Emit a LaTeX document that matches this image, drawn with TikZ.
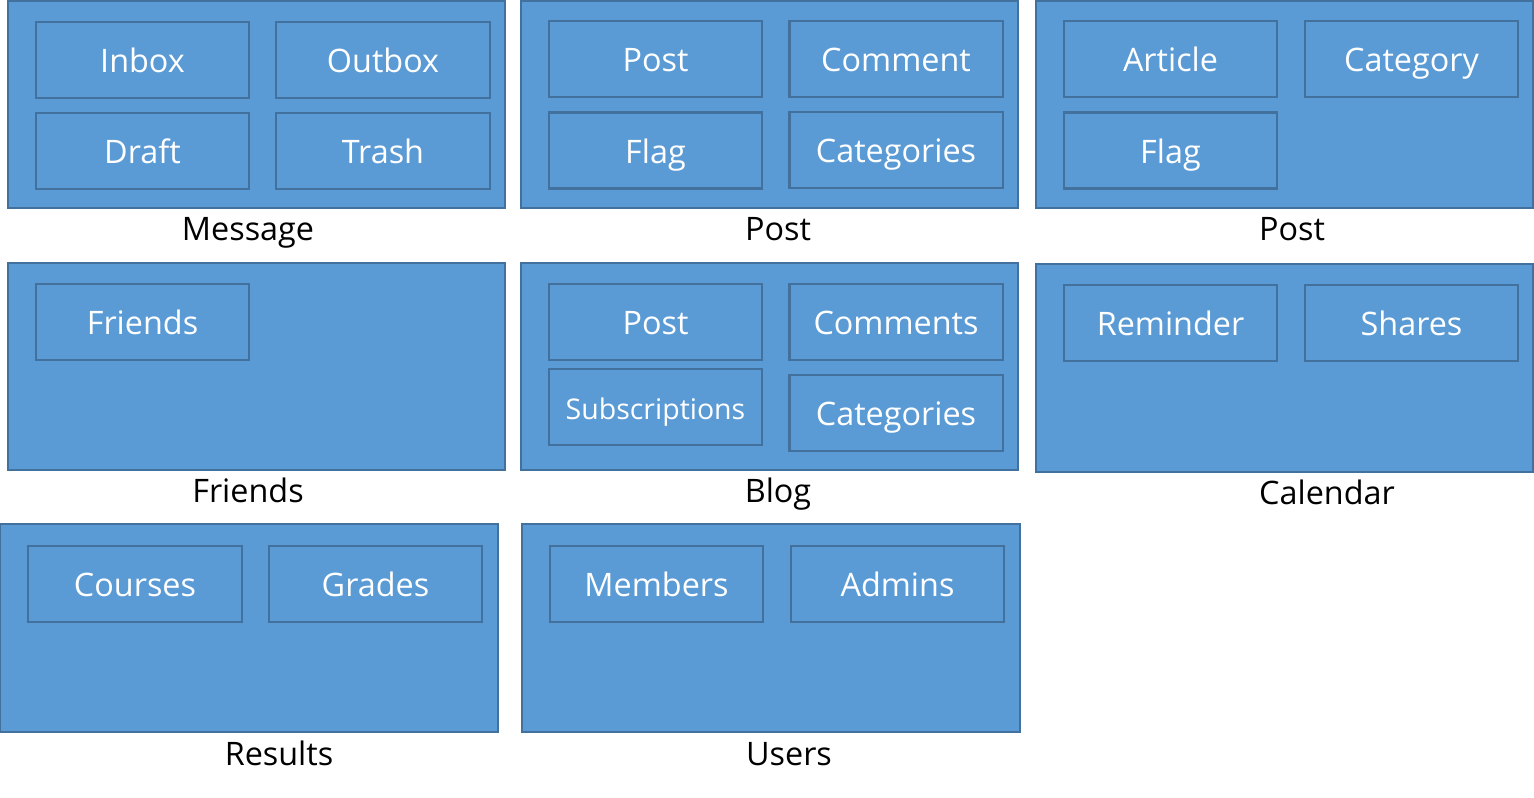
\documentclass[tikz,border=0pt]{standalone}
\usepackage{fontspec}
\setmainfont{Open Sans}
\definecolor{boxfill}{HTML}{5B9BD5}
\definecolor{boxline}{HTML}{41719C}

\tikzset{
  group/.style={draw=boxline,fill=boxfill,line width=0.6pt,
    minimum width=4.97cm,minimum height=2.07cm,inner sep=0pt},
  item/.style={draw=boxline,fill=boxfill,line width=0.6pt,text=white,
    font=\fontsize{9.2}{11}\selectfont,text height=1.33ex,text depth=0pt,
    minimum width=2.13cm,minimum height=0.76cm,inner sep=0pt},
  caption/.style={anchor=base,inner sep=0pt,text=black,
    font=\fontsize{9.2}{11}\selectfont},
}

\begin{document}
\begin{tikzpicture}[x=0.01cm,y=-0.01cm]
\useasboundingbox (0,0) rectangle (1534,798);

% first row
\node[group] (message) at (256.5,104.5) {};
\node[item] (inbox) at (142.5,60) {Inbox};
\node[item] (outbox) at (383,60) {Outbox};
\node[item] (draft) at (142.5,151) {Draft};
\node[item] (trash) at (383,151) {Trash};
\node[caption] (messagecap) at (248,241) {Message};

\node[group] (posta) at (769.5,104.5) {};
\node[item] (postapost) at (655.5,59) {Post};
\node[item] (postacomment) at (896,59) {Comment};
\node[item] (postaflag) at (655.5,150.5) {Flag};
\node[item] (postacat) at (896,150) {Categories};
\node[caption] (postacap) at (778,241) {Post};

\node[group] (postb) at (1284.5,104.5) {};
\node[item] (postbarticle) at (1170.5,59) {Article};
\node[item] (postbcat) at (1411.5,59) {Category};
\node[item] (postbflag) at (1170.5,150.5) {Flag};
\node[caption] (postbcap) at (1292,241) {Post};

% second row
\node[group] (friends) at (256.5,366.5) {};
\node[item] (friendsitem) at (142.5,322) {Friends};
\node[caption] (friendscap) at (248,503) {Friends};

\node[group] (blog) at (769.5,366.5) {};
\node[item] (blogpost) at (655.5,322) {Post};
\node[item] (blogcomments) at (896,322) {Comments};
\node[item,font=\fontsize{8.1}{10}\selectfont] (blogsubs) at (655.5,407) {Subscriptions};
\node[item] (blogcat) at (896,413) {Categories};
\node[caption] (blogcap) at (778,503) {Blog};

\node[group] (calendar) at (1284.5,368) {};
\node[item] (reminder) at (1170.5,323) {Reminder};
\node[item] (shares) at (1411.5,323) {Shares};
\node[caption] (calendarcap) at (1327,505) {Calendar};

% third row
\node[group] (results) at (249,628) {};
\node[item] (courses) at (135,584) {Courses};
\node[item] (grades) at (375.5,584) {Grades};
\node[caption] (resultscap) at (279,765) {Results};

\node[group] (users) at (771,628) {};
\node[item] (members) at (656.5,584) {Members};
\node[item] (admins) at (897.5,584) {Admins};
\node[caption] (userscap) at (789,765) {Users};

\end{tikzpicture}
\end{document}
